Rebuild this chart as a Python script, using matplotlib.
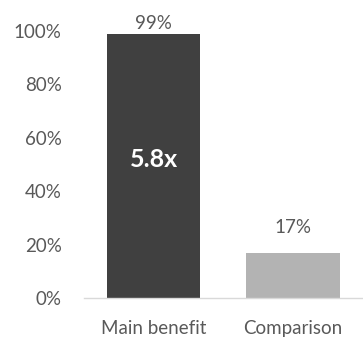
import matplotlib
matplotlib.use("Agg")
import matplotlib.pyplot as plt
from matplotlib.ticker import FuncFormatter

categories = ["Main benefit", "Comparison"]
values = [99, 17]
value_labels = ["99%", "17%"]
inner_label = "5.8x"
yticks = [0, 20, 40, 60, 80, 100]

colors = ["#404040", "#b3b3b3"]
text_color = "#595959"
plt.rcParams['font.family'] = ['Lato', 'DejaVu Sans']

fig = plt.figure(figsize=(3.63, 3.47), dpi=100)
ax = fig.add_axes([0.231, 0.141, 0.769, 0.770])
x = list(range(len(categories)))
bars = ax.bar(x, values, width=0.67, color=colors, zorder=2)
ax.set_xlim(-0.5, 1.5)
ax.set_ylim(0, 100)
ax.set_yticks(yticks)
ax.yaxis.set_major_formatter(FuncFormatter(lambda v, p: f"{int(v)}%"))
ax.set_xticks(x)
ax.set_xticklabels(categories)
ax.tick_params(axis='both', length=0, colors=text_color, labelsize=13.5)
ax.tick_params(axis='x', pad=16)
ax.tick_params(axis='y', pad=16)
for s in ["top", "right", "left"]:
    ax.spines[s].set_visible(False)
ax.spines["bottom"].set_color("#d9d9d9")
ax.spines["bottom"].set_linewidth(1)

offsets = [1, 12]
for xi, v, lab, off in zip(x, values, value_labels, offsets):
    ax.annotate(lab, (xi, v), xytext=(0, off), textcoords="offset points",
                ha="center", va="bottom", color=text_color, fontsize=13.5,
                annotation_clip=False)
ax.text(x[0], 52, inner_label, ha="center", va="center", color="white",
        fontsize=18, fontweight="bold")

fig.savefig("out.png", dpi=100)
